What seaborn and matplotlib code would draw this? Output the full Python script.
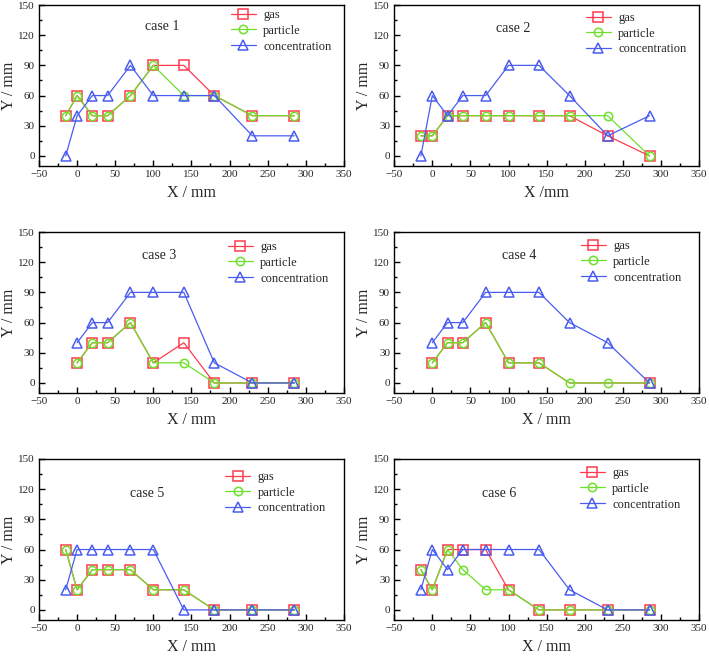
import matplotlib
matplotlib.use("Agg")
import matplotlib.pyplot as plt
import numpy as np
import pandas as pd
import seaborn as sns
from matplotlib.ticker import MultipleLocator

X_FULL = [-15, 0, 20, 40, 70, 100, 140, 180, 230, 285]
X_SHORT = [0, 20, 40, 70, 100, 140, 180, 230, 285]

CASES = ["case 1", "case 2", "case 3", "case 4", "case 5", "case 6"]
X_BY_CASE = [X_FULL, X_FULL, X_SHORT, X_SHORT, X_FULL, X_FULL]

GAS = [
    [40, 60, 40, 40, 60, 90, 90, 60, 40, 40],
    [20, 20, 40, 40, 40, 40, 40, 40, 20, 0],
    [20, 40, 40, 60, 20, 40, 0, 0, 0],
    [20, 40, 40, 60, 20, 20, 0, 0, 0],
    [60, 20, 40, 40, 40, 20, 20, 0, 0, 0],
    [40, 20, 60, 60, 60, 20, 0, 0, 0, 0],
]
PARTICLE = [
    [40, 60, 40, 40, 60, 90, 60, 60, 40, 40],
    [20, 20, 40, 40, 40, 40, 40, 40, 40, 0],
    [20, 40, 40, 60, 20, 20, 0, 0, 0],
    [20, 40, 40, 60, 20, 20, 0, 0, 0],
    [60, 20, 40, 40, 40, 20, 20, 0, 0, 0],
    [40, 20, 60, 40, 20, 20, 0, 0, 0, 0],
]
CONCENTRATION = [
    [0, 40, 60, 60, 90, 60, 60, 60, 20, 20],
    [0, 60, 40, 60, 60, 90, 90, 60, 20, 40],
    [40, 60, 60, 90, 90, 90, 20, 0, 0],
    [40, 60, 60, 90, 90, 90, 60, 40, 0],
    [20, 60, 60, 60, 60, 60, 0, 0, 0, 0],
    [20, 60, 40, 60, 60, 60, 60, 20, 0, 0],
]
X_LABELS = ["X / mm", "X /mm", "X / mm", "X / mm", "X / mm", "X / mm"]

# case 4: gas squares hidden at x=180 and 230
GAS_MARKEVERY = [None, None, None, [0, 1, 2, 3, 4, 5, 8], None, None]

# where the "case n" label and the legend sit in each panel
CASE_XY = [(111, 129), (106, 127), (108, 127), (114, 127), (92, 116), (88, 116)]
LEGEND_XY = [(0.612, 1.006), (0.612, 0.988), (0.602, 0.975),
             (0.595, 0.981), (0.595, 0.957), (0.592, 0.981)]

STYLE = {
    "gas": dict(color="#FF3B4E", marker="s", ms=7.5),
    "particle": dict(color="#6EE02A", marker="o", ms=6),
    "concentration": dict(color="#4A5CF0", marker="^", ms=7.5),
}

sns.set_theme(style="ticks")
plt.rcParams["font.family"] = ["Liberation Serif", "DejaVu Serif"]

fig = plt.figure(figsize=(7.09, 6.58), dpi=100)
lefts = [0.055, 0.556]
bottoms = [0.7477, 0.4027, 0.0578]
W, H = 0.430, 0.2447

for i, case in enumerate(CASES):
    ax = fig.add_axes([lefts[i % 2], bottoms[i // 2], W, H])
    xs = X_BY_CASE[i]
    series = {"gas": GAS[i], "particle": PARTICLE[i], "concentration": CONCENTRATION[i]}
    for name, vals in series.items():
        df = pd.DataFrame({"x": xs, "y": vals})
        st = STYLE[name]
        kw = {}
        if name == "gas" and GAS_MARKEVERY[i] is not None:
            kw["markevery"] = GAS_MARKEVERY[i]
        sns.lineplot(
            data=df, x="x", y="y", ax=ax, estimator=None, errorbar=None, sort=False,
            color=st["color"], marker=st["marker"], markersize=st["ms"],
            markerfacecolor="none", markeredgecolor=st["color"], markeredgewidth=1.1,
            linewidth=0.9, label=name, **kw,
        )
    ax.set_xlim(-50, 350)
    ax.set_ylim(-10, 150)
    ax.xaxis.set_major_locator(MultipleLocator(50))
    ax.xaxis.set_minor_locator(MultipleLocator(25))
    ax.yaxis.set_major_locator(MultipleLocator(30))
    ax.yaxis.set_minor_locator(MultipleLocator(15))
    ax.tick_params(which="both", direction="in", top=False, right=False, labelsize=8,
                   width=1.0, color="black", pad=3)
    ax.tick_params(which="major", length=4)
    ax.tick_params(which="minor", length=2.5)
    for sp in ax.spines.values():
        sp.set_linewidth(1.0)
        sp.set_color("black")
    ax.set_xlabel(X_LABELS[i], fontsize=11.5, labelpad=4)
    ax.set_ylabel("Y / mm", fontsize=11.5, labelpad=1)
    ax.text(*CASE_XY[i], case, ha="center", va="center", fontsize=10)
    ax.legend(loc="upper left", bbox_to_anchor=LEGEND_XY[i], frameon=False, fontsize=9,
              handlelength=2.0, labelspacing=0.3, handletextpad=0.6, borderaxespad=0.0)

fig.savefig("out.png", dpi=100)
